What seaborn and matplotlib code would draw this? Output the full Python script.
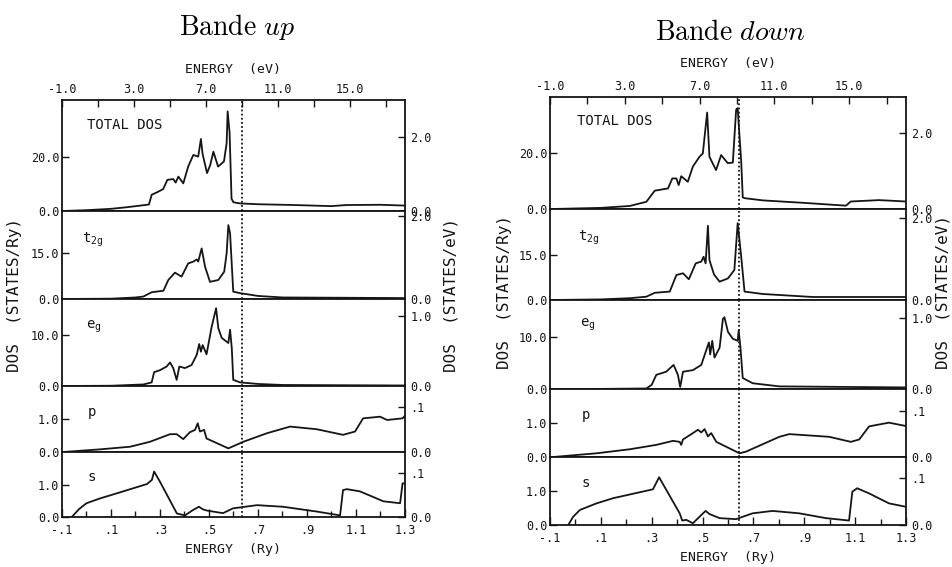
import numpy as np
import pandas as pd
import matplotlib
matplotlib.use("Agg")
import matplotlib.pyplot as plt
import seaborn as sns

# ---------------- data (energies in Ry, DOS in states/Ry) ----------------
EF_up = 0.635
EF_down = 0.645

up_total_x = [-0.1, 0.0, 0.1, 0.165, 0.22, 0.255, 0.266, 0.29, 0.313, 0.33, 0.354, 0.364, 0.375, 0.395,
              0.415, 0.436, 0.456, 0.467, 0.474, 0.492, 0.505, 0.518, 0.537, 0.561, 0.572, 0.576, 0.584,
              0.592, 0.60, 0.627, 0.70, 0.85, 1.0, 1.06, 1.2, 1.3]
up_total_y = [0, 0.3, 0.8, 1.4, 2.0, 2.4, 6.0, 7.0, 8.1, 11.5, 11.8, 10.5, 12.7, 10.2,
              16.4, 20.7, 20.1, 26.6, 21.0, 14.0, 17.0, 21.9, 16.4, 18.3, 25.0, 36.8, 29.0,
              4.5, 3.2, 2.8, 2.5, 2.2, 1.8, 2.2, 2.3, 2.0]

up_t2g_x = [-0.1, 0.1, 0.2, 0.232, 0.266, 0.314, 0.334, 0.361, 0.388, 0.415, 0.436, 0.45, 0.456, 0.47,
            0.484, 0.504, 0.538, 0.562, 0.572, 0.579, 0.586, 0.599, 0.627, 0.70, 0.80, 1.3]
up_t2g_y = [0, 0.1, 0.5, 0.8, 2.2, 2.7, 6.2, 8.6, 7.3, 11.6, 12.2, 12.9, 12.2, 16.5,
            10.5, 5.6, 6.2, 8.9, 14.9, 24.1, 21.4, 2.4, 1.9, 1.0, 0.5, 0.3]

up_eg_x = [-0.1, 0.1, 0.232, 0.266, 0.276, 0.30, 0.327, 0.341, 0.354, 0.368, 0.379, 0.402, 0.429, 0.45,
           0.46, 0.467, 0.474, 0.49, 0.511, 0.529, 0.538, 0.552, 0.579, 0.586, 0.593, 0.599, 0.627,
           0.70, 0.80, 1.3]
up_eg_y = [0, 0.05, 0.3, 0.7, 2.7, 3.1, 3.8, 4.6, 3.5, 1.2, 3.8, 3.5, 4.1, 6.1,
           8.2, 6.7, 8.0, 6.2, 11.6, 15.2, 11.3, 9.4, 8.4, 11.0, 7.4, 1.2, 0.7,
           0.4, 0.2, 0.1]

up_p_x = [-0.096, 0.055, 0.178, 0.259, 0.341, 0.368, 0.395, 0.422, 0.443, 0.454, 0.463, 0.48, 0.49,
          0.579, 0.64, 0.737, 0.831, 0.94, 1.047, 1.096, 1.129, 1.198, 1.227, 1.29, 1.3]
up_p_y = [0, 0.08, 0.16, 0.31, 0.54, 0.54, 0.39, 0.6, 0.67, 0.87, 0.62, 0.67, 0.41,
          0.11, 0.31, 0.57, 0.77, 0.69, 0.52, 0.62, 1.02, 1.07, 0.97, 1.02, 1.1]

up_s_x = [-0.06, -0.03, 0.0, 0.055, 0.124, 0.247, 0.267, 0.276, 0.30, 0.369, 0.402, 0.435, 0.459,
          0.475, 0.492, 0.557, 0.598, 0.696, 0.802, 0.94, 1.035, 1.047, 1.063, 1.116, 1.212, 1.28,
          1.29, 1.3]
up_s_y = [0, 0.25, 0.43, 0.58, 0.74, 1.03, 1.16, 1.42, 1.1, 0.11, 0.05, 0.22, 0.32,
          0.24, 0.2, 0.12, 0.27, 0.37, 0.32, 0.17, 0.05, 0.84, 0.87, 0.8, 0.49, 0.43,
          1.05, 1.05]

down_total_x = [-0.093, 0.1, 0.214, 0.279, 0.312, 0.364, 0.381, 0.397, 0.406, 0.416, 0.442, 0.462,
                0.488, 0.501, 0.518, 0.527, 0.553, 0.573, 0.599, 0.619, 0.632, 0.638, 0.652, 0.658,
                0.665, 0.737, 0.9, 1.064, 1.083, 1.194, 1.3]
down_total_y = [0, 0.4, 1.1, 2.6, 6.6, 7.4, 11.0, 11.0, 8.6, 11.8, 9.8, 15.3,
                18.8, 20.0, 34.7, 18.8, 14.0, 19.4, 16.5, 16.7, 35.7, 36.3, 17.0, 4.2,
                3.9, 3.1, 2.2, 1.2, 2.7, 3.2, 2.7]

down_t2g_x = [-0.093, 0.1, 0.214, 0.279, 0.312, 0.371, 0.397, 0.423, 0.446, 0.473, 0.495, 0.504,
              0.512, 0.521, 0.527, 0.545, 0.567, 0.6, 0.625, 0.638, 0.652, 0.665, 0.737, 0.933, 1.3]
down_t2g_y = [0, 0.2, 0.6, 1.1, 2.4, 2.8, 8.3, 8.9, 6.9, 12.2, 12.8, 14.4,
              12.2, 24.7, 13.3, 8.5, 6.1, 7.2, 10.0, 25.6, 14.4, 2.8, 2.0, 1.0, 1.0]

down_eg_x = [-0.093, 0.1, 0.279, 0.30, 0.318, 0.357, 0.386, 0.403, 0.412, 0.423, 0.462, 0.495, 0.515,
             0.525, 0.53, 0.538, 0.547, 0.567, 0.58, 0.586, 0.6, 0.619, 0.638, 0.642, 0.649, 0.658,
             0.697, 0.802, 1.3]
down_eg_y = [0, 0.02, 0.1, 0.8, 2.7, 3.3, 4.6, 2.7, 0.4, 3.3, 3.6, 4.6, 7.5,
             8.9, 6.6, 9.2, 6.0, 7.9, 13.4, 13.7, 10.9, 9.6, 9.2, 11.2, 7.9, 2.1,
             1.1, 0.5, 0.3]

down_p_x = [-0.088, 0.083, 0.214, 0.318, 0.384, 0.41, 0.416, 0.423, 0.462, 0.482, 0.495, 0.508,
            0.521, 0.534, 0.554, 0.645, 0.671, 0.802, 0.841, 0.998, 1.083, 1.116, 1.155, 1.233, 1.3]
down_p_y = [0, 0.11, 0.23, 0.36, 0.48, 0.45, 0.36, 0.52, 0.71, 0.81, 0.73, 0.83,
            0.61, 0.71, 0.45, 0.11, 0.16, 0.6, 0.68, 0.6, 0.45, 0.52, 0.91, 1.02, 0.92]

down_s_x = [-0.028, -0.009, 0.018, 0.083, 0.148, 0.305, 0.329, 0.41, 0.42, 0.436, 0.462, 0.488,
            0.512, 0.527, 0.567, 0.632, 0.658, 0.697, 0.775, 0.88, 0.985, 1.076, 1.089, 1.108,
            1.155, 1.233, 1.3]
down_s_y = [0, 0.24, 0.44, 0.63, 0.78, 1.04, 1.39, 0.34, 0.13, 0.15, 0.05, 0.24,
            0.41, 0.32, 0.2, 0.17, 0.24, 0.34, 0.41, 0.34, 0.2, 0.13, 0.97, 1.07,
            0.92, 0.63, 0.53]

# tick labels
ry_major = [-0.1, 0.1, 0.3, 0.5, 0.7, 0.9, 1.1, 1.3]
ry_major_labels = ["-.1", ".1", ".3", ".5", ".7", ".9", "1.1", "1.3"]
ry_minor = [0.0, 0.2, 0.4, 0.6, 0.8, 1.0, 1.2]
ev_major = [-1.0, 3.0, 7.0, 11.0, 15.0]
ev_major_labels = ["-1.0", "3.0", "7.0", "11.0", "15.0"]
ev_minor = [1.0, 5.0, 9.0, 13.0, 17.0]

panel_names = ["TOTAL DOS", r"t$_{2g}$", r"e$_{g}$", "p", "s"]
left_ticks = [[0, 20], [0, 15], [0, 10], [0, 1], [0, 1]]
left_tick_labels = [["0.0", "20.0"], ["0.0", "15.0"], ["0.0", "10.0"], ["0.0", "1.0"], ["0.0", "1.0"]]
right_ticks = [[0, 2.0], [0, 2.0], [0, 1.0], [0, 0.1], [0, 0.1]]
right_tick_labels = [["0.0", "2.0"], ["0.0", "2.0"], ["0.0", "1.0"], ["0.0", ".1"], ["0.0", ".1"]]

RY_EV = 13.6

# ---------------- style ----------------
sns.set_theme(style="white")
plt.rcParams["font.family"] = ["DejaVu Sans Mono", "DejaVu Sans"]
plt.rcParams["mathtext.default"] = "regular"
INK = "#151515"

W, H = 953, 567
fig = plt.figure(figsize=(W / 100, H / 100), dpi=100)
fig.patch.set_facecolor("white")


def box(x0, y0, x1, y1):
    return [x0 / W, 1 - y1 / H, (x1 - x0) / W, (y1 - y0) / H]


def ry2ev(x):
    return (np.asarray(x) + 0.1) * RY_EV - 1.0


def ev2ry(e):
    return (np.asarray(e) + 1.0) / RY_EV - 0.1


def draw_column(x0, x1, ybounds, ytops, curves, ef, label_px, title, title_xy,
                evlabel_y, rylabel_y, ylab_left_x, ylab_right_x, ylab_y):
    n = len(curves)
    axes = []
    for i in range(n):
        ax = fig.add_axes(box(x0, ybounds[i], x1, ybounds[i + 1]))
        xs, ys = curves[i]
        df = pd.DataFrame({"E": xs, "DOS": ys})
        sns.lineplot(data=df, x="E", y="DOS", ax=ax, color=INK, linewidth=1.3,
                     estimator=None, sort=False, legend=False)
        ax.set_xlim(-0.1, 1.3)
        ax.set_ylim(0, ytops[i])
        ax.axvline(ef, color=INK, lw=1.3, ls=(0, (1.0, 1.3)), zorder=3)
        ax.set_xlabel("")
        ax.set_ylabel("")
        for sp in ax.spines.values():
            sp.set_color(INK)
            sp.set_linewidth(1.3)
        ax.set_yticks(left_ticks[i])
        ax.set_yticklabels(left_tick_labels[i])
        ax.tick_params(axis="y", direction="in", length=5, width=1.0, color=INK,
                       labelsize=8.5, labelcolor=INK, pad=2, left=True)
        sec = ax.secondary_yaxis("right", functions=(lambda y: y / RY_EV, lambda y: y * RY_EV))
        sec.set_yticks(right_ticks[i])
        sec.set_yticklabels(right_tick_labels[i])
        sec.tick_params(direction="in", length=5, width=1.0, color=INK,
                        labelsize=8.5, labelcolor=INK, pad=4)
        sec.spines["right"].set_visible(False)
        if i < n - 1:
            ax.set_xticks([])
        else:
            ax.set_xticks(ry_major)
            ax.set_xticklabels(ry_major_labels)
            ax.set_xticks(ry_minor, minor=True)
            ax.tick_params(axis="x", which="major", direction="in", length=6, width=1.0,
                           color=INK, labelsize=8.5, labelcolor=INK, pad=5, bottom=True)
            ax.tick_params(axis="x", which="minor", direction="in", length=4, width=1.0,
                           color=INK, bottom=True)
        if i == 0:
            top = ax.secondary_xaxis("top", functions=(ry2ev, ev2ry))
            top.set_xticks(ev_major)
            top.set_xticklabels(ev_major_labels)
            top.set_xticks(ev_minor, minor=True)
            top.tick_params(which="both", direction="in", length=5, width=1.0, color=INK,
                            labelsize=8.5, labelcolor=INK, pad=3)
            top.spines["top"].set_visible(False)
        lx, ly = label_px[i]
        fig.text(lx / W, 1 - ly / H, panel_names[i], fontsize=10, color=INK,
                 ha="left", va="center")
        axes.append(ax)
    # titles & axis labels
    fig.text(title_xy[0] / W, 1 - title_xy[1] / H, title, fontsize=20, color="black",
             ha="center", va="center", math_fontfamily="cm")
    cx = (x0 + x1) / 2
    fig.text(cx / W, 1 - evlabel_y / H, "ENERGY  (eV)", fontsize=9.5, color=INK,
             ha="center", va="center")
    fig.text(cx / W, 1 - rylabel_y / H, "ENERGY  (Ry)", fontsize=9.5, color=INK,
             ha="center", va="center")
    fig.text(ylab_left_x / W, 1 - ylab_y / H, "DOS  (STATES/Ry)", fontsize=11.5, color=INK,
             ha="center", va="center", rotation=90)
    fig.text(ylab_right_x / W, 1 - ylab_y / H, "DOS  (STATES/eV)", fontsize=11.5, color=INK,
             ha="center", va="center", rotation=90)
    return axes


up_curves = [(up_total_x, up_total_y), (up_t2g_x, up_t2g_y), (up_eg_x, up_eg_y),
             (up_p_x, up_p_y), (up_s_x, up_s_y)]
down_curves = [(down_total_x, down_total_y), (down_t2g_x, down_t2g_y), (down_eg_x, down_eg_y),
               (down_p_x, down_p_y), (down_s_x, down_s_y)]

draw_column(62, 405, [100, 211, 299, 386, 452, 517], [41.0, 28.7, 17.0, 2.0, 2.03],
            up_curves, EF_up,
            [(87, 125), (82, 240), (86, 327), (88, 412), (88, 477)],
            r"$\mathrm{Bande}\ \mathit{up}$", (237, 27), 70, 549, 15, 451, 295)

draw_column(550, 906, [97, 209, 300, 389, 457, 525], [40.3, 30.3, 17.0, 2.02, 1.98],
            down_curves, EF_down,
            [(577, 121), (578, 238), (580, 325), (582, 415), (582, 483)],
            r"$\mathrm{Bande}\ \mathit{down}$", (730, 32), 63, 558, 505, 943, 292)

fig.savefig("out.png", dpi=100, facecolor="white")
